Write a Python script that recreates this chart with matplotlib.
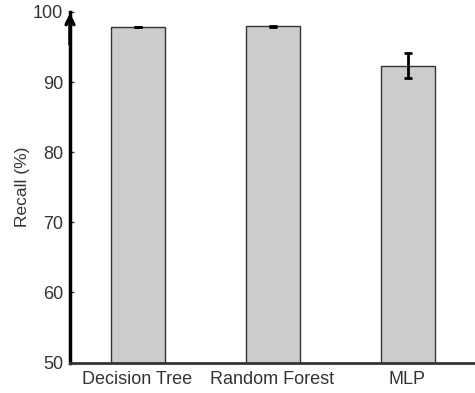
import matplotlib
matplotlib.use("Agg")
import matplotlib.pyplot as plt

categories = ["Decision Tree", "Random Forest", "MLP"]
recall = [97.86, 97.95, 92.35]
recall_err = [0.06, 0.12, 1.75]
y_ticks = [50, 60, 70, 80, 90, 100]

plt.rcParams['font.family'] = ['Liberation Sans', 'DejaVu Sans']

fig = plt.figure(figsize=(4.75, 3.93), dpi=100)
ax = fig.add_axes([70/475, (393-362.5)/393, (475-70)/475, (362.5-12)/393])

x = list(range(len(categories)))
ax.bar(x, recall, width=0.4, color='#cccccc', edgecolor='#333333', linewidth=1.0,
       zorder=2)
ax.errorbar(x, recall, yerr=recall_err, fmt='none', ecolor='black', elinewidth=2,
            capsize=3, capthick=2, zorder=3)

ax.set_xlim(-0.5, 2.5)
ax.set_ylim(50, 100)
ax.set_yticks(y_ticks)
ax.set_xticks(x)
ax.set_xticklabels(categories)
ax.set_ylabel('Recall (%)', fontsize=12.5, color='#333333', labelpad=2)
ax.tick_params(axis='both', direction='in', length=3, width=1, labelsize=13,
               labelcolor='#333333', color='#333333')
ax.tick_params(axis='x', pad=6)
ax.tick_params(axis='y', pad=5)

for s in ['top', 'right']:
    ax.spines[s].set_visible(False)
ax.spines['left'].set_linewidth(2.5)
ax.spines['left'].set_color('black')
ax.spines['bottom'].set_linewidth(2)
ax.spines['bottom'].set_color('#333333')

ax.annotate('', xy=(0, 1.005), xytext=(0, 0.9), xycoords='axes fraction',
            arrowprops=dict(arrowstyle='->', lw=2.5, color='black',
                            mutation_scale=14), annotation_clip=False)

fig.savefig('out.png', dpi=100)
